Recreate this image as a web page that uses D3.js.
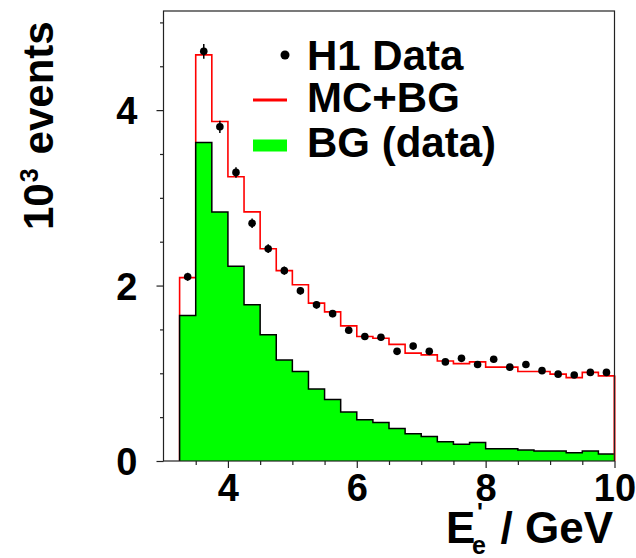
<!DOCTYPE html>
<html>
<head>
<meta charset="utf-8">
<script src="https://cdn.jsdelivr.net/npm/d3@7"></script>
<style>
  html, body { margin: 0; padding: 0; background: #fff; }
  svg { display: block; }
  text { font-family: "Liberation Sans", Arial, Helvetica, sans-serif; font-weight: bold; fill: #000; }
</style>
</head>
<body>
<svg id="chart" width="636" height="558"></svg>
<script>
// Lower edges of the 0.25 GeV energy bins (last bin ends at 10 GeV)
const binLow = [3.25, 3.5, 3.75, 4.0, 4.25, 4.5, 4.75, 5.0, 5.25, 5.5, 5.75, 6.0, 6.25, 6.5,
                6.75, 7.0, 7.25, 7.5, 7.75, 8.0, 8.25, 8.5, 8.75, 9.0, 9.25, 9.5, 9.75];
const binWidth = 0.25;

// Event counts in units of 10^3
const h1Data = [2.10, 4.67, 3.81, 3.29, 2.71, 2.42, 2.17, 1.94, 1.78, 1.68, 1.49, 1.42, 1.41, 1.25,
                1.31, 1.25, 1.13, 1.17, 1.10, 1.16, 1.07, 1.10, 1.03, 0.99, 0.98, 1.01, 1.01];
const h1Err  = [0.046, 0.085, 0.070, 0.060, 0.055, 0.050, 0.047, 0.044, 0.042, 0.041, 0.039, 0.038, 0.038, 0.035,
                0.036, 0.035, 0.034, 0.034, 0.033, 0.034, 0.033, 0.033, 0.032, 0.031, 0.031, 0.032, 0.032];
const mcBg   = [2.09, 4.63, 3.87, 3.24, 2.84, 2.42, 2.17, 2.01, 1.80, 1.70, 1.54, 1.42, 1.40, 1.33,
                1.23, 1.21, 1.14, 1.11, 1.13, 1.07, 1.07, 1.02, 1.02, 0.99, 0.95, 1.01, 0.97];
const bgData = [1.66, 3.63, 2.84, 2.22, 1.78, 1.44, 1.15, 1.02, 0.82, 0.70, 0.56, 0.47, 0.44, 0.37,
                0.31, 0.28, 0.22, 0.19, 0.21, 0.14, 0.14, 0.125, 0.114, 0.114, 0.095, 0.114, 0.08];

const xMajor = [4, 6, 8, 10];
const yMajor = [0, 2, 4];
const legendLabels = ["H1 Data", "MC+BG", "BG (data)"];

const svg = d3.select("#chart");
const x = d3.scaleLinear().domain([3.0, 10]).range([163.5, 614.5]);
const y = d3.scaleLinear().domain([0, 5.13]).range([461, 11]);

// Step outline of a histogram, built from bin edges and contents
function stepPath(values, close) {
  const p = d3.path();
  p.moveTo(x(binLow[0]), y(0));
  values.forEach((v, i) => {
    p.lineTo(x(binLow[i]), y(v));
    p.lineTo(x(binLow[i] + binWidth), y(v));
  });
  if (close) p.lineTo(x(binLow[binLow.length - 1] + binWidth), y(0));
  return p.toString();
}

// MC + background (red outline)
svg.append("path")
  .attr("d", stepPath(mcBg, true))
  .attr("fill", "none")
  .attr("stroke", "#ff0000")
  .attr("stroke-width", 1.6);

// Background from data (green filled, black outline)
svg.append("path")
  .attr("d", stepPath(bgData, true) + "Z")
  .attr("fill", "#00ff00")
  .attr("stroke", "none");
svg.append("path")
  .attr("d", stepPath(bgData, false))
  .attr("fill", "none")
  .attr("stroke", "#000")
  .attr("stroke-width", 1.5);

// Red closing edge at the upper end of the range
svg.append("line")
  .attr("x1", x(10)).attr("x2", x(10))
  .attr("y1", y(mcBg[mcBg.length - 1])).attr("y2", y(0))
  .attr("stroke", "#ff0000").attr("stroke-width", 1.6);

// H1 data points with statistical error bars
const pts = svg.append("g");
h1Data.forEach((v, i) => {
  const cx = x(binLow[i] + binWidth / 2);
  pts.append("line")
    .attr("x1", cx).attr("x2", cx)
    .attr("y1", y(v - h1Err[i])).attr("y2", y(v + h1Err[i]))
    .attr("stroke", "#000").attr("stroke-width", 1.5);
  pts.append("circle")
    .attr("cx", cx).attr("cy", y(v)).attr("r", 3.8)
    .attr("fill", "#000");
});

// Frame
svg.append("rect")
  .attr("x", x(3.0)).attr("y", y(5.13))
  .attr("width", x(10) - x(3.0)).attr("height", y(0) - y(5.13))
  .attr("fill", "none").attr("stroke", "#222").attr("stroke-width", 1.2);

// Axes: major ticks labelled, minor ticks every 0.5
const xMinor = d3.range(3.5, 10.01, 0.5).filter(t => !xMajor.includes(t));
const yMinor = d3.range(0.5, 5.01, 0.5).filter(t => !yMajor.includes(t));

const xAxis = svg.append("g").attr("transform", `translate(0,${y(0)})`)
  .call(d3.axisBottom(x).tickValues(xMajor).tickSize(7).tickPadding(8).tickFormat(d3.format("d")));
svg.append("g").attr("transform", `translate(0,${y(0)})`)
  .call(d3.axisBottom(x).tickValues(xMinor).tickSize(4).tickFormat(""));

const yAxis = svg.append("g").attr("transform", `translate(${x(3.0)},0)`)
  .call(d3.axisLeft(y).tickValues(yMajor).tickSize(7).tickPadding(19).tickFormat(d3.format("d")));
svg.append("g").attr("transform", `translate(${x(3.0)},0)`)
  .call(d3.axisLeft(y).tickValues(yMinor).tickSize(3.5).tickFormat(""));

svg.selectAll(".domain").remove();
svg.selectAll(".tick line").attr("stroke", "#222").attr("stroke-width", 1.2);
svg.selectAll(".tick text")
  .style("font-family", '"Liberation Sans", Arial, sans-serif')
  .style("font-weight", "bold")
  .style("font-size", "38px")
  .attr("fill", "#000");
xAxis.selectAll(".tick text").attr("dy", null).attr("y", 39.5);
yAxis.selectAll(".tick text").attr("dy", null).attr("y", 13.5);

// Y axis title: 10^3 events
const yTitle = svg.append("text")
  .attr("transform", "translate(53,230) rotate(-90)")
  .style("font-size", "42px");
yTitle.append("tspan").text("10");
yTitle.append("tspan").attr("dy", -15).attr("dx", 1).style("font-size", "25px").text("3");
yTitle.append("tspan").attr("dy", 15).attr("dx", 14).text("events");

// X axis title: E'_e / GeV
svg.append("text").attr("x", 446).attr("y", 543).style("font-size", "44px").text("E");
svg.append("text").attr("x", 472).attr("y", 554).style("font-size", "25px").text("e");
svg.append("text").attr("x", 477).attr("y", 521).style("font-size", "25px").text("'");
svg.append("text").attr("x", 613).attr("y", 543).attr("text-anchor", "end")
  .style("font-size", "44px").text("/ GeV");

// Legend
const leg = svg.append("g");
leg.append("circle").attr("cx", 285).attr("cy", 55).attr("r", 4.5).attr("fill", "#000");
leg.append("line").attr("x1", 253).attr("x2", 287).attr("y1", 100).attr("y2", 100)
  .attr("stroke", "#ff0000").attr("stroke-width", 3);
leg.append("rect").attr("x", 253).attr("y", 139.5).attr("width", 34).attr("height", 12)
  .attr("fill", "#00ff00");
const legY = [70, 112, 157];
legendLabels.forEach((t, i) => {
  leg.append("text").attr("x", 307).attr("y", legY[i]).style("font-size", "42px").text(t);
});
</script>
</body>
</html>
